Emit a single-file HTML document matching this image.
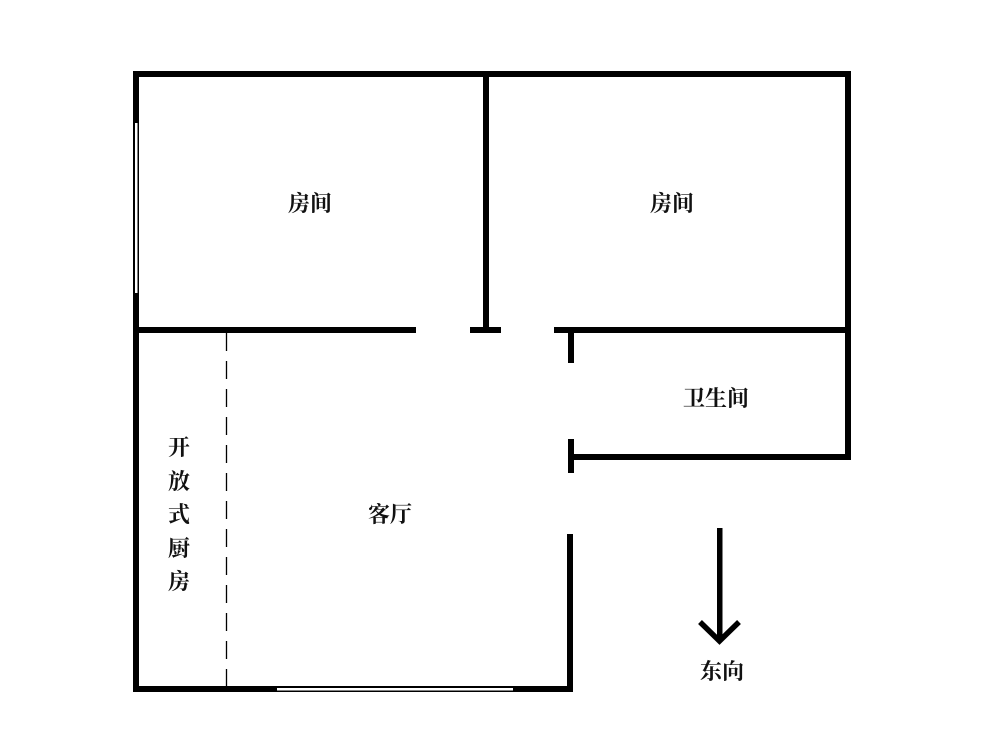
<!DOCTYPE html>
<html><head><meta charset="utf-8"><style>
html,body{margin:0;padding:0;background:#fff;}
svg{display:block;}
text{font-family:"Noto Serif CJK SC","Liberation Serif",serif;font-size:22px;font-weight:700;fill:#111;}
</style></head><body>
<svg width="1000" height="756" viewBox="0 0 1000 756" xmlns="http://www.w3.org/2000/svg">
<rect width="1000" height="756" fill="#fff"/>
<g fill="#000">
<rect x="133" y="71" width="718" height="6"/>
<rect x="133" y="71" width="6" height="621"/>
<rect x="845" y="71" width="6" height="389"/>
<rect x="483" y="71" width="6" height="262"/>
<rect x="133" y="327" width="283" height="6"/>
<rect x="470" y="327" width="31" height="6"/>
<rect x="554" y="327" width="297" height="6"/>
<rect x="568" y="330" width="6" height="33"/>
<rect x="568" y="439" width="6" height="34"/>
<rect x="568" y="454" width="283" height="6"/>
<rect x="567" y="534" width="6" height="158"/>
<rect x="133" y="686" width="440" height="6"/>
</g>
<rect x="135" y="123" width="2.5" height="170" fill="#fff"/>
<rect x="277" y="688" width="236" height="2.5" fill="#fff"/>
<line x1="226.5" y1="333" x2="226.5" y2="686" stroke="#000" stroke-width="1.3" stroke-dasharray="18,10"/>
<rect x="717" y="528" width="5.5" height="110" fill="#000"/>
<polyline points="700,622 719.5,641 739,622" fill="none" stroke="#000" stroke-width="5.5"/>
<text x="310" y="211" text-anchor="middle">房间</text>
<text x="672" y="211" text-anchor="middle">房间</text>
<text x="716" y="406" text-anchor="middle">卫生间</text>
<text x="390" y="522" text-anchor="middle">客厅</text>
<text x="722" y="679" text-anchor="middle">东向</text>
<g text-anchor="middle">
<text x="179" y="455">开</text>
<text x="179" y="489">放</text>
<text x="179" y="522">式</text>
<text x="179" y="556">厨</text>
<text x="179" y="589">房</text>
</g>
</svg>
</body></html>
